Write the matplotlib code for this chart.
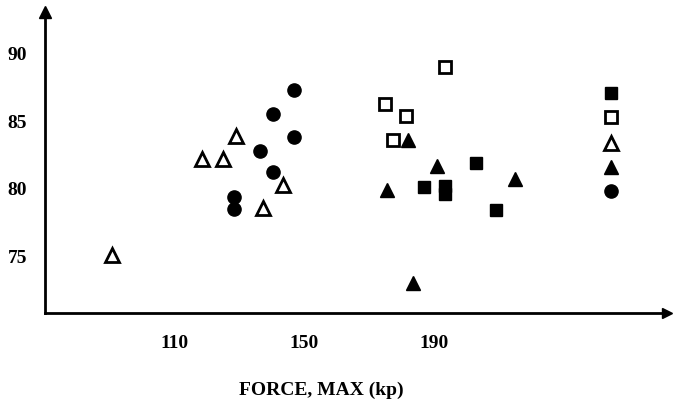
import matplotlib.pyplot as plt

# values
open_tri_x = [91, 118.5, 125, 129, 137.5, 143.5]
open_tri_y = [75.1, 82.2, 82.2, 83.9, 78.6, 80.3]

filled_circ_x = [147, 140.5, 147, 136.5, 140.5, 128.5, 128.5]
filled_circ_y = [87.3, 85.5, 83.8, 82.8, 81.2, 79.4, 78.5]

open_sq_x = [193.5, 175, 181.5, 177.5]
open_sq_y = [89.0, 86.3, 85.4, 83.6]

filled_tri_x = [182, 191, 175.5, 215, 183.5]
filled_tri_y = [83.6, 81.7, 79.9, 80.7, 73.0]

filled_sq_x = [203, 187, 193.5, 193.5, 209]
filled_sq_y = [81.9, 80.1, 80.2, 79.6, 78.4]

# unlabeled key column on the right
key_x = 244.5
key_y = [87.1, 85.3, 83.4, 81.6, 79.8]

x_ticks = [110, 150, 190]
y_ticks = [75, 80, 85, 90]

font = {'family': 'Liberation Serif', 'weight': 'bold', 'size': 14}

fig = plt.figure(figsize=(6.73, 4.0), dpi=100)
ax = fig.add_axes([0.067, 0.2175, 0.924, 0.7525])

ms = 9.5
open_style = dict(ls='none', mfc='white', mec='black', mew=2)
fill_style = dict(ls='none', color='black')

ax.plot(open_tri_x, open_tri_y, '^', ms=ms + 1, **open_style)
ax.plot(filled_circ_x, filled_circ_y, 'o', ms=ms, **fill_style)
ax.plot(open_sq_x, open_sq_y, 's', ms=ms - 1.5, **open_style)
ax.plot(filled_tri_x, filled_tri_y, '^', ms=ms + 1, **fill_style)
ax.plot(filled_sq_x, filled_sq_y, 's', ms=ms - 1, **fill_style)

ax.plot([key_x], [key_y[0]], 's', ms=ms - 1, **fill_style)
ax.plot([key_x], [key_y[1]], 's', ms=ms - 1.5, **open_style)
ax.plot([key_x], [key_y[2]], '^', ms=ms + 1, **open_style)
ax.plot([key_x], [key_y[3]], '^', ms=ms + 1, **fill_style)
ax.plot([key_x], [key_y[4]], 'o', ms=ms, **fill_style)

ax.set_xlim(70.3, 261.7)
ax.set_ylim(70.8, 93.07)
ax.set_xticks(x_ticks)
ax.set_yticks(y_ticks)
ax.set_xticklabels([str(t) for t in x_ticks], fontdict=font)
ax.set_yticklabels([str(t) for t in y_ticks], fontdict=font)
ax.tick_params(axis='x', length=0, pad=16)
ax.tick_params(axis='y', length=0, pad=13)

for side in ['top', 'right']:
    ax.spines[side].set_visible(False)
for side in ['left', 'bottom']:
    ax.spines[side].set_linewidth(2)

# arrow heads at the ends of the axes
ax.plot(1, 0, '>k', ms=7, transform=ax.transAxes, clip_on=False)
ax.plot(0, 1, '^k', ms=9, transform=ax.transAxes, clip_on=False)

fig.text(0.478, 0.025, 'FORCE, MAX (kp)', ha='center', va='center', **font)

fig.savefig('out.png', dpi=100)
